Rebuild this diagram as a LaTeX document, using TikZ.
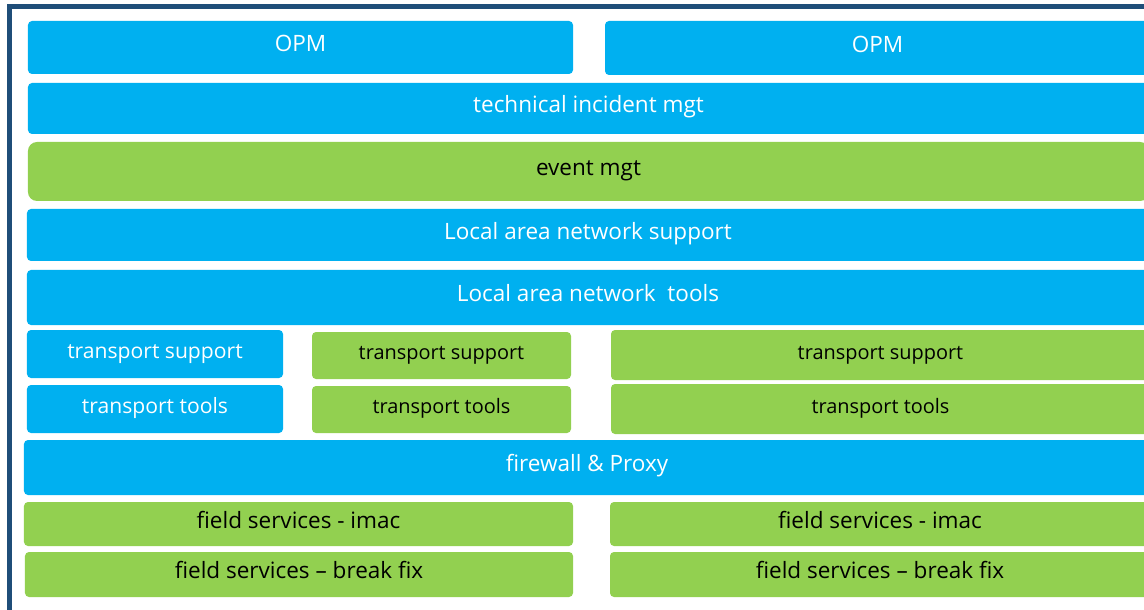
\documentclass[tikz,border=0pt]{standalone}
\usepackage{fontspec}
\setmainfont{Open Sans}
\definecolor{cblue}{HTML}{00B0F0}
\definecolor{cgreen}{HTML}{92D050}
\definecolor{cframe}{HTML}{1F4E79}
\tikzset{
  blk/.style={rectangle, rounded corners=4bp, inner sep=0pt, outer sep=0pt, align=center, text height=0.9em, text depth=0.05em},
  bbox/.style={blk, fill=cblue, text=white},
  gbox/.style={blk, fill=cgreen, text=black},
  fbig/.style={font=\fontsize{22.6}{26}\selectfont},
  fmid/.style={font=\fontsize{21.2}{25}\selectfont},
  fsml/.style={font=\fontsize{20}{24}\selectfont},
  sz/.style n args={2}{minimum width=#1bp, minimum height=#2bp}
}
\begin{document}
\begin{tikzpicture}[x=1bp,y=-1bp]
\useasboundingbox (0,0) rectangle (1144,610);
\fill[white] (0,0) rectangle (1144,610);
% frame
\coordinate (ftl) at (9.5,7);
\coordinate (fbl) at (9.5,615);
\coordinate (ftr) at (1150,7);
\draw[cframe, line width=5bp] (fbl) -- (ftl) -- (ftr);
% rows
\node[bbox, fbig, sz={545}{53}] (opm1) at (300.5,47.5) {OPM};
\node[bbox, fbig, sz={545}{54}] (opm2) at (877.5,48) {OPM};
\node[bbox, fbig, sz={1121}{51}] (tim) at (588.5,108.5) {technical incident mgt};
\node[gbox, fbig, sz={1121}{59}, rounded corners=9bp] (evt) at (588.5,171.5) {event mgt};
\node[bbox, fbig, sz={1122}{52}] (lans) at (588,235) {Local area network support};
\node[bbox, fbig, sz={1122}{55}] (lant) at (588,297.5) {Local area network\ \ tools};
\node[bbox, fmid, sz={256}{48}] (ts1) at (155,354) {transport support};
\node[bbox, fmid, sz={256}{48}] (tt1) at (155,409) {transport tools};
\node[gbox, fsml, sz={259}{47}] (ts2) at (441.5,355.5) {transport support};
\node[gbox, fsml, sz={259}{47}] (tt2) at (441.5,409.5) {transport tools};
\node[gbox, fsml, sz={539}{50}] (ts3) at (880.5,355) {transport support};
\node[gbox, fsml, sz={539}{50}] (tt3) at (880.5,409) {transport tools};
\node[bbox, fbig, sz={1126}{55}] (fw) at (587,467.5) {firewall \& Proxy};
\node[gbox, fbig, sz={549}{44}] (fi1) at (298.5,524) {field services - imac};
\node[gbox, fbig, sz={548}{45}] (fb1) at (299,574.5) {field services – break fix};
\node[gbox, fbig, sz={540}{44}] (fi2) at (880,524) {field services - imac};
\node[gbox, fbig, sz={540}{45}] (fb2) at (880,574.5) {field services – break fix};
\end{tikzpicture}
\end{document}
